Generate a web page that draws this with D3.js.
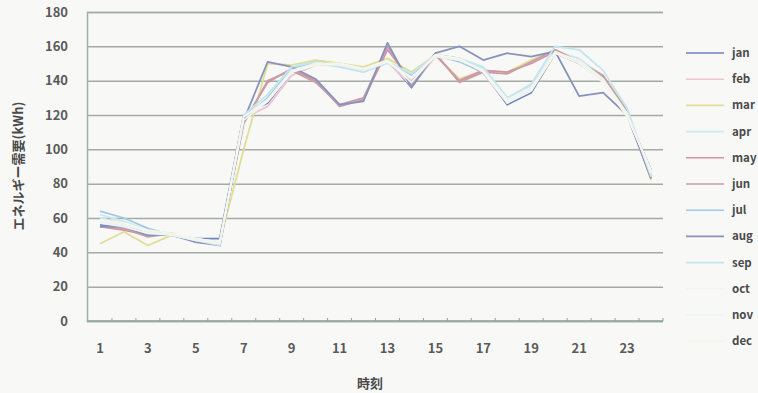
<!DOCTYPE html>
<html>
<head>
<meta charset="utf-8">
<script src="https://cdn.jsdelivr.net/npm/d3@7"></script>
<style>
  html, body { margin: 0; padding: 0; background: #f8f8f7; }
  svg { display: block; }
  text { font-family: "Noto Sans CJK JP", "DejaVu Sans", sans-serif; }
</style>
</head>
<body>
<svg id="chart" width="758" height="393"></svg>
<script>
// Hourly energy demand by month (kWh)
const hours = d3.range(1, 25);
const yTicks = [0, 20, 40, 60, 80, 100, 120, 140, 160, 180];
const xTickLabels = [1, 3, 5, 7, 9, 11, 13, 15, 17, 19, 21, 23];
const months = ["jan", "feb", "mar", "apr", "may", "jun", "jul", "aug", "sep", "oct", "nov", "dec"];
const monthColors = ["#6f82c2", "#eec4d6", "#e2dd94", "#cde9f0", "#d690ab", "#c59fa4",
                     "#a2c8e8", "#8893bd", "#c4e5ef", "#eef5f5", "#f0f6ef", "#f6f6ea"];

const jan = [56, 55, 52, 50, 48, 48, 120, 127, 145, 150, 150, 147, 152, 136, 155, 153, 145, 126, 133, 156, 150, 140, 120, 88];
const feb = [58, 56, 53, 50, 47, 45, 118, 125, 143, 149, 149, 146, 151, 137, 154, 152, 144, 127, 135, 157, 151, 141, 121, 87];
const mar = [45, 52, 44, 50, 48, 46, 100, 150, 149, 152, 150, 148, 153, 145, 155, 141, 146, 145, 152, 158, 152, 143, 123, 82];
const apr = [62, 58, 53, 51, 47, 44, 118, 130, 146, 150, 148, 145, 150, 144, 154, 152, 147, 130, 137, 157, 153, 142, 121, 85];
const may = [55, 53, 50, 50, 47, 46, 116, 139, 147, 140, 125, 129, 158, 140, 155, 140, 146, 145, 150, 157, 150, 142, 120, 84];
const jun = [55, 54, 49, 51, 46, 45, 115, 140, 146, 139, 126, 130, 160, 138, 156, 139, 145, 144, 151, 158, 151, 143, 122, 83];
const jul = [64, 60, 54, 50, 48, 44, 118, 130, 147, 151, 149, 146, 151, 143, 155, 151, 145, 127, 135, 156, 152, 141, 120, 86];
const aug = [55, 55, 50, 50, 46, 44, 117, 151, 148, 141, 126, 128, 162, 136, 156, 160, 152, 156, 154, 157, 131, 133, 120, 83];
const sep = [60, 57, 52, 50, 47, 44, 120, 132, 148, 151, 148, 145, 151, 144, 155, 153, 148, 130, 138, 160, 158, 146, 124, 84];
const oct = [57, 55, 51, 50, 47, 45, 117, 128, 145, 150, 149, 146, 151, 142, 154, 152, 146, 129, 136, 156, 152, 141, 121, 86];
const nov = [58, 56, 52, 50, 48, 46, 119, 129, 146, 150, 150, 147, 151, 141, 155, 152, 146, 128, 135, 157, 151, 140, 120, 87];
const dec = [59, 57, 53, 51, 48, 46, 119, 128, 145, 149, 150, 147, 152, 139, 155, 153, 145, 127, 134, 156, 150, 139, 119, 88];
const seriesValues = [jan, feb, mar, apr, may, jun, jul, aug, sep, oct, nov, dec];

const svg = d3.select("#chart");
const plot = { left: 87, right: 663, top: 12, bottom: 321 };

const x = d3.scaleBand().domain(hours).range([plot.left + 1, plot.right]).paddingInner(0).paddingOuter(0);
const y = d3.scaleLinear().domain([0, 180]).range([plot.bottom, plot.top]);
const cx = h => x(h) + x.bandwidth() / 2;

// horizontal gridlines + y labels
const yAxis = d3.axisLeft(y).tickValues(yTicks).tickSize(-(plot.right - plot.left)).tickPadding(19);
const gy = svg.append("g").attr("transform", `translate(${plot.left},0)`).call(yAxis);
gy.select(".domain").attr("stroke", "#9fb0a8").attr("stroke-width", 1.5);
gy.selectAll(".tick line").attr("stroke", "#a3aca2").attr("stroke-width", 1.5);
gy.selectAll(".tick text")
  .attr("fill", "#5a5a5a").attr("font-size", 13).attr("font-weight", "bold");

// x axis baseline with boundary ticks
const gx = svg.append("g").attr("transform", `translate(0,${plot.bottom})`);
gx.append("line").attr("x1", plot.left).attr("x2", plot.right).attr("stroke", "#8fa79c").attr("stroke-width", 1.5);
gx.selectAll(".bt").data(hours).enter().append("line")
  .attr("x1", h => x(h) + x.bandwidth()).attr("x2", h => x(h) + x.bandwidth())
  .attr("y1", 0).attr("y2", -3).attr("stroke", "#8fa79c").attr("stroke-width", 1);
const xAxis = d3.axisBottom(x).tickValues(xTickLabels).tickSize(0).tickPadding(23);
const gxl = svg.append("g").attr("transform", `translate(0,${plot.bottom})`).call(xAxis);
gxl.select(".domain").remove();
gxl.selectAll(".tick text").attr("fill", "#5a5a5a").attr("font-size", 13).attr("font-weight", "bold");

// axis titles
svg.append("text").attr("x", 370).attr("y", 388).attr("text-anchor", "middle")
  .attr("fill", "#4a4a4a").attr("font-size", 13).attr("font-weight", "bold").text("時刻");
svg.append("text").attr("transform", "translate(23,166) rotate(-90)").attr("text-anchor", "middle")
  .attr("fill", "#4a4a4a").attr("font-size", 13).attr("font-weight", "bold").text("エネルギー需要(kWh)");

// monthly lines
const line = d3.line().x((d, i) => cx(hours[i])).y(d => y(d));
svg.append("g").selectAll("path").data(seriesValues).enter().append("path")
  .attr("d", line).attr("fill", "none")
  .attr("stroke", (d, i) => monthColors[i]).attr("stroke-width", 1.8)
  .attr("stroke-linejoin", "round");

// legend
const lg = svg.append("g");
months.forEach((m, i) => {
  const ly = 53 + i * 26.2;
  lg.append("line").attr("x1", 686).attr("x2", 724).attr("y1", ly).attr("y2", ly)
    .attr("stroke", monthColors[i]).attr("stroke-width", 1.6);
  lg.append("text").attr("x", 732).attr("y", ly + 4).attr("fill", "#4a4a4a")
    .attr("font-size", 11.5).attr("font-weight", "bold").text(m);
});
</script>
</body>
</html>
